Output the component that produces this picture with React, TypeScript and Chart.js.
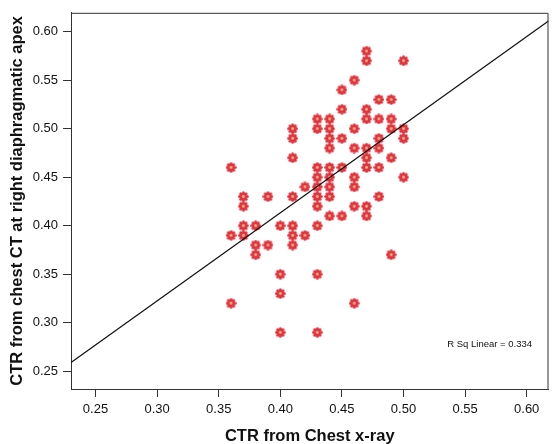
import React, { useEffect, useRef } from "react";
import { Chart, registerables } from "chart.js";

Chart.register(...registerables);

// Data points (CTR chest x-ray, CTR chest CT at right diaphragmatic apex)
const X_VALUES = [
  0.47, 0.47, 0.50, 0.46, 0.45, 0.48, 0.49, 0.45, 0.47, 0.43, 0.44, 0.47, 0.48, 0.49,
  0.41, 0.41, 0.43, 0.44, 0.46, 0.49, 0.50,
  0.44, 0.45, 0.48, 0.50,
  0.44, 0.46, 0.47, 0.48,
  0.41, 0.47, 0.49,
  0.36, 0.43, 0.44, 0.45, 0.47, 0.48,
  0.43, 0.44, 0.46, 0.50,
  0.42, 0.43, 0.44, 0.46,
  0.37, 0.39, 0.41, 0.43, 0.44, 0.48,
  0.37, 0.43, 0.46, 0.47,
  0.44, 0.45, 0.47,
  0.37, 0.38, 0.40, 0.41, 0.43,
  0.36, 0.37, 0.41, 0.42,
  0.38, 0.39, 0.41,
  0.38, 0.49,
  0.40, 0.43,
  0.40,
  0.36, 0.46,
  0.40, 0.43,
];
const Y_VALUES = [
  0.58, 0.57, 0.57, 0.55, 0.54, 0.53, 0.53, 0.52, 0.52, 0.51, 0.51, 0.51, 0.51, 0.51,
  0.50, 0.49, 0.50, 0.50, 0.50, 0.50, 0.50,
  0.49, 0.49, 0.49, 0.49,
  0.48, 0.48, 0.48, 0.48,
  0.47, 0.47, 0.47,
  0.46, 0.46, 0.46, 0.46, 0.46, 0.46,
  0.45, 0.45, 0.45, 0.45,
  0.44, 0.44, 0.44, 0.44,
  0.43, 0.43, 0.43, 0.43, 0.43, 0.43,
  0.42, 0.42, 0.42, 0.42,
  0.41, 0.41, 0.41,
  0.40, 0.40, 0.40, 0.40, 0.40,
  0.39, 0.39, 0.39, 0.39,
  0.38, 0.38, 0.38,
  0.37, 0.37,
  0.35, 0.35,
  0.33,
  0.32, 0.32,
  0.29, 0.29,
];

// Fit line end points
const FIT_X = [0.2301, 0.6177];
const FIT_Y = [0.2589, 0.6110];

const X_TICKS = [0.25, 0.3, 0.35, 0.4, 0.45, 0.5, 0.55, 0.6];
const Y_TICKS = [0.25, 0.3, 0.35, 0.4, 0.45, 0.5, 0.55, 0.6];
const X_RANGE = [0.2301, 0.6177];
const Y_RANGE = [0.2316, 0.6194];

const RSQ_TEXT = "R Sq Linear = 0.334";
const RSQ_POS = { x: 0.5355, y: 0.278 };

const X_TITLE = "CTR from Chest x-ray";
const Y_TITLE = "CTR from chest CT at right diaphragmatic apex";

function makeMarker(): HTMLCanvasElement {
  const c = document.createElement("canvas");
  c.width = 11;
  c.height = 11;
  const ctx = c.getContext("2d")!;
  const cx = 5.5, cy = 5.5;
  ctx.fillStyle = "#e2323c";
  for (let i = 0; i < 8; i++) {
    const a = (i * Math.PI) / 4;
    ctx.beginPath();
    ctx.arc(cx + Math.cos(a) * 3.8, cy + Math.sin(a) * 3.8, 1.5, 0, Math.PI * 2);
    ctx.fill();
  }
  ctx.beginPath();
  ctx.arc(cx, cy, 3.4, 0, Math.PI * 2);
  ctx.fill();
  ctx.fillStyle = "#f1b98e";
  ctx.beginPath();
  ctx.arc(cx, cy, 1.4, 0, Math.PI * 2);
  ctx.fill();
  return c;
}

const framePlugin = {
  id: "frameAndText",
  afterDatasetsDraw(chart: any) {
    const { ctx, chartArea, scales } = chart;
    ctx.save();
    ctx.strokeStyle = "#333";
    ctx.lineWidth = 1;
    ctx.beginPath();
    ctx.moveTo(chartArea.left, chartArea.top + 0.5);
    ctx.lineTo(chartArea.right - 0.5, chartArea.top + 0.5);
    ctx.lineTo(chartArea.right - 0.5, chartArea.bottom);
    ctx.stroke();
    ctx.fillStyle = "#111";
    ctx.font = "9.5px 'Liberation Sans', Arial, sans-serif";
    ctx.textAlign = "left";
    ctx.textBaseline = "middle";
    ctx.fillText(RSQ_TEXT, scales.x.getPixelForValue(RSQ_POS.x), scales.y.getPixelForValue(RSQ_POS.y));
    ctx.restore();
  },
};

export default function App() {
  const ref = useRef<HTMLCanvasElement>(null);
  useEffect(() => {
    document.body.style.margin = "0";
    const marker = makeMarker();
    const points = X_VALUES.map((x, i) => ({ x, y: Y_VALUES[i] }));
    const fit = FIT_X.map((x, i) => ({ x, y: FIT_Y[i] }));
    const tickFont = { family: "'Liberation Sans', Arial, sans-serif", size: 13 };
    const titleFont = { family: "'Liberation Sans', Arial, sans-serif", size: 16.5, weight: "bold" as const, lineHeight: 1 };
    const chart = new Chart(ref.current!, {
      type: "scatter",
      data: {
        datasets: [
          {
            type: "line",
            data: fit,
            borderColor: "#111",
            borderWidth: 1.2,
            pointRadius: 0,
            fill: false,
            order: 0,
          } as any,
          {
            data: points,
            pointStyle: marker as any,
            pointRadius: 5.5,
            order: 1,
          },
        ],
      },
      options: {
        animation: false,
        responsive: true,
        maintainAspectRatio: false,
        layout: { padding: { top: 10, right: 2, left: 0, bottom: 0 } },
        plugins: { legend: { display: false }, tooltip: { enabled: false } },
        scales: {
          x: {
            type: "linear",
            min: X_RANGE[0],
            max: X_RANGE[1],
            afterBuildTicks: (s: any) => { s.ticks = X_TICKS.map((v) => ({ value: v })); },
            afterFit: (s: any) => { s.height = 55; },
            ticks: { font: tickFont, color: "#111", padding: 5, maxRotation: 0, callback: (v: any) => Number(v).toFixed(2) },
            grid: { drawOnChartArea: false, tickLength: 8, color: "#333" },
            border: { color: "#333" },
            title: { display: true, text: X_TITLE, font: titleFont, color: "#111", padding: { top: 0, bottom: -1 } },
          },
          y: {
            type: "linear",
            min: Y_RANGE[0],
            max: Y_RANGE[1],
            afterBuildTicks: (s: any) => { s.ticks = Y_TICKS.map((v) => ({ value: v })); },
            afterFit: (s: any) => { s.width = 71; },
            ticks: { font: tickFont, color: "#111", padding: 5, callback: (v: any) => Number(v).toFixed(2) },
            grid: { drawOnChartArea: false, tickLength: 8, color: "#333" },
            border: { color: "#333" },
            title: { display: true, text: Y_TITLE, font: titleFont, color: "#111", padding: { top: 9, bottom: 0 } },
          },
        },
      },
      plugins: [framePlugin],
    });
    return () => chart.destroy();
  }, []);
  return (
    <div style={{ width: 555, height: 444, position: "relative" }}>
      <canvas ref={ref} />
    </div>
  );
}
